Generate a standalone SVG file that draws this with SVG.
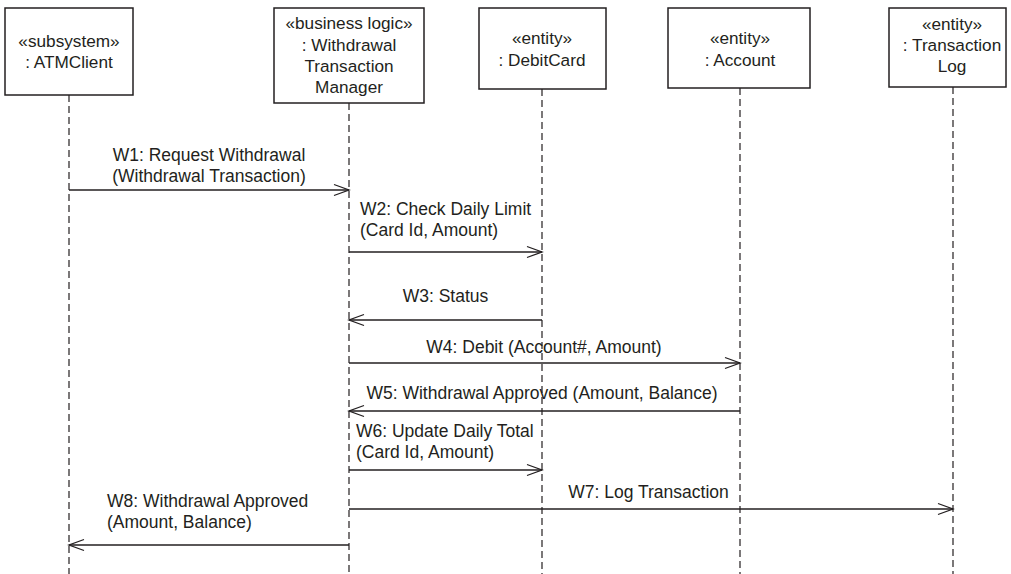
<svg xmlns="http://www.w3.org/2000/svg" width="1011" height="574" viewBox="0 0 1011 574">
  <style>
    .box { fill: #ffffff; stroke: #231f20; stroke-width: 1.5; }
    .life { stroke: #231f20; stroke-width: 1.2; stroke-dasharray: 7 4; fill: none; }
    .msg { stroke: #231f20; stroke-width: 1.3; fill: none; marker-end: url(#open); }
    text { font-family: "Liberation Sans", Arial, sans-serif; font-size: 17.5px; fill: #231f20; }
    .n { font-size: 17.2px; }
    .c { text-anchor: middle; }
  </style>
  <defs>
    <marker id="open" markerUnits="userSpaceOnUse" markerWidth="18" markerHeight="14" viewBox="0 0 18 14" refX="16" refY="7" orient="auto">
      <path d="M1,1.5 L16,7 L1,12.5" fill="none" stroke="#231f20" stroke-width="1.3"/>
    </marker>
  </defs>
  <rect width="1011" height="574" fill="#ffffff"/>

  <g id="lifelines">
    <line class="life" x1="69" y1="95" x2="69" y2="574"/>
    <line class="life" x1="349" y1="103" x2="349" y2="574"/>
    <line class="life" x1="542" y1="89" x2="542" y2="574"/>
    <line class="life" x1="740" y1="88" x2="740" y2="574"/>
    <line class="life" x1="953" y1="87" x2="953" y2="574"/>
  </g>

  <g id="atmclient">
    <rect class="box" x="5" y="8" width="128" height="87"/>
    <text class="c n" x="69" y="47">«subsystem»</text>
    <text class="c n" x="69" y="68">: ATMClient</text>
  </g>
  <g id="wtm">
    <rect class="box" x="274" y="8" width="150" height="95"/>
    <text class="c n" x="349" y="29">«business logic»</text>
    <text class="c n" x="349" y="51">: Withdrawal</text>
    <text class="c n" x="349" y="72">Transaction</text>
    <text class="c n" x="349" y="93">Manager</text>
  </g>
  <g id="debitcard">
    <rect class="box" x="479" y="8" width="127" height="81"/>
    <text class="c n" x="542" y="44">«entity»</text>
    <text class="c n" x="542" y="66">: DebitCard</text>
  </g>
  <g id="account">
    <rect class="box" x="668" y="8" width="142" height="80"/>
    <text class="c n" x="740" y="44">«entity»</text>
    <text class="c n" x="740" y="66">: Account</text>
  </g>
  <g id="transactionlog">
    <rect class="box" x="889" y="8" width="117" height="79"/>
    <text class="c n" x="952" y="30">«entity»</text>
    <text class="c n" x="952" y="51">: Transaction</text>
    <text class="c n" x="952" y="72">Log</text>
  </g>

  <g id="connectors">
    <line class="msg" x1="69" y1="190" x2="349" y2="190"/>
    <line class="msg" x1="349" y1="252" x2="542" y2="252"/>
    <line class="msg" x1="542" y1="320" x2="349" y2="320"/>
    <line class="msg" x1="349" y1="363" x2="740" y2="363"/>
    <line class="msg" x1="740" y1="411" x2="349" y2="411"/>
    <line class="msg" x1="349" y1="470" x2="542" y2="470"/>
    <line class="msg" x1="349" y1="509" x2="953" y2="509"/>
    <line class="msg" x1="349" y1="545" x2="69" y2="545"/>
  </g>

  <g id="labels">
    <text class="c" x="209" y="161">W1: Request Withdrawal</text>
    <text class="c" x="209" y="182">(Withdrawal Transaction)</text>
    <text x="360" y="215">W2: Check Daily Limit</text>
    <text x="360" y="236">(Card Id, Amount)</text>
    <text class="c" x="445.5" y="302">W3: Status</text>
    <text class="c" x="544" y="353">W4: Debit (Account#, Amount)</text>
    <text class="c" x="542" y="399">W5: Withdrawal Approved (Amount, Balance)</text>
    <text x="356" y="437">W6: Update Daily Total</text>
    <text x="356" y="458">(Card Id, Amount)</text>
    <text class="c" x="648.5" y="498">W7: Log Transaction</text>
    <text x="107" y="507">W8: Withdrawal Approved</text>
    <text x="107" y="528">(Amount, Balance)</text>
  </g>
</svg>
